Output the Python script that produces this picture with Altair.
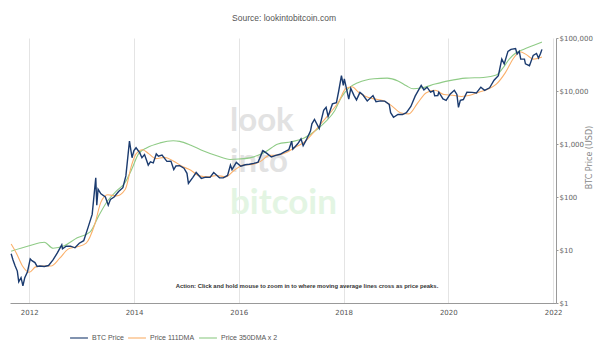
import altair as alt
import pandas as pd

# ---------------- data ----------------
price_dates = [
    "2011-08-28", "2011-09-10", "2011-09-25", "2011-10-10", "2011-10-20", "2011-11-05", "2011-11-18",
    "2011-12-01", "2011-12-20", "2012-01-08", "2012-01-20", "2012-02-10", "2012-02-25", "2012-03-15",
    "2012-04-15", "2012-05-15", "2012-06-15", "2012-07-15", "2012-08-15", "2012-08-20", "2012-09-15",
    "2012-10-15", "2012-11-15", "2012-12-15", "2013-01-15", "2013-02-15", "2013-03-15", "2013-04-09",
    "2013-04-16", "2013-04-25", "2013-05-15", "2013-06-15", "2013-07-05", "2013-07-20", "2013-08-15",
    "2013-09-15", "2013-10-15", "2013-11-05", "2013-11-30", "2013-12-18", "2013-12-31", "2014-01-15",
    "2014-02-10", "2014-02-25", "2014-03-15", "2014-04-10", "2014-04-25", "2014-05-15", "2014-06-05",
    "2014-06-20", "2014-07-15", "2014-08-18", "2014-09-15", "2014-10-05", "2014-10-20", "2014-11-15",
    "2014-12-15", "2015-01-05", "2015-01-15", "2015-02-15", "2015-03-10", "2015-04-15", "2015-05-15",
    "2015-06-15", "2015-07-10", "2015-08-20", "2015-09-15", "2015-10-15", "2015-11-04", "2015-11-15",
    "2015-12-15", "2016-01-15", "2016-02-15", "2016-03-15", "2016-04-15", "2016-05-15", "2016-06-17",
    "2016-07-15", "2016-08-15", "2016-09-15", "2016-10-15", "2016-11-15", "2016-12-15", "2017-01-04",
    "2017-01-12", "2017-02-15", "2017-03-10", "2017-03-25", "2017-04-15", "2017-05-15", "2017-05-25",
    "2017-06-12", "2017-07-15", "2017-08-15", "2017-09-01", "2017-09-15", "2017-10-15", "2017-11-12",
    "2017-11-28", "2017-12-17", "2017-12-30", "2018-01-06", "2018-01-20", "2018-02-06", "2018-02-20",
    "2018-03-15", "2018-04-01", "2018-04-25", "2018-05-15", "2018-06-15", "2018-07-25", "2018-08-15",
    "2018-09-15", "2018-10-15", "2018-11-15", "2018-11-25", "2018-12-15", "2019-01-15", "2019-02-15",
    "2019-03-15", "2019-04-15", "2019-05-15", "2019-06-26", "2019-07-15", "2019-08-06", "2019-08-30",
    "2019-09-20", "2019-09-28", "2019-10-20", "2019-10-27", "2019-11-25", "2019-12-17", "2020-01-15",
    "2020-02-12", "2020-03-01", "2020-03-12", "2020-03-25", "2020-04-15", "2020-05-10", "2020-06-15",
    "2020-07-15", "2020-08-15", "2020-09-10", "2020-10-15", "2020-11-15", "2020-12-15", "2021-01-08",
    "2021-01-25", "2021-02-20", "2021-03-13", "2021-04-14", "2021-04-25", "2021-05-10", "2021-05-20",
    "2021-06-15", "2021-06-22", "2021-07-20", "2021-08-15", "2021-09-07", "2021-09-21", "2021-10-05",
    "2021-10-15",
]
price_values = [
    8.5, 6.5, 5.0, 4.0, 2.5, 3.0, 2.1,
    3.0, 3.9, 6.8, 6.3, 5.8, 4.9, 5.0,
    4.9, 5.1, 6.5, 8.8, 12.5, 10.5, 11.8,
    11.8, 11.0, 13.4, 15, 27, 47, 230,
    70, 140, 115, 100, 70, 90, 100,
    127, 150, 250, 1130, 550, 750, 850,
    680, 550, 630, 400, 460, 440, 650,
    590, 620, 470, 475, 330, 385, 390,
    350, 280, 180, 235, 290, 225, 237,
    235, 290, 230, 230, 255, 400, 330,
    450, 380, 405, 415, 430, 455, 750,
    665, 570, 610, 640, 710, 780, 1130,
    800, 1010, 1250, 930, 1180, 1750, 2400,
    2900, 1950, 4300, 4900, 3300, 5700, 6000,
    10000, 19500, 12800, 17000, 11500, 7000, 11200,
    8200, 6800, 9400, 8500, 6500, 8200, 6300,
    6500, 6450, 5600, 3900, 3200, 3600, 3600,
    3900, 5100, 8000, 12800, 10500, 11800, 9500,
    10100, 8100, 8200, 9500, 7100, 6650, 8800,
    10300, 8600, 4900, 6700, 6900, 9500, 9400,
    9200, 11800, 10300, 11500, 16000, 19500, 40000,
    32500, 56000, 61000, 63500, 50000, 56000, 40000,
    40000, 32500, 30000, 47000, 51000, 42000, 51000,
    61000,
]

dma111_dates = [
    "2011-08-28", "2011-10-01", "2011-11-15", "2012-01-01", "2012-02-15", "2012-04-01", "2012-06-01",
    "2012-08-01", "2012-10-01", "2012-12-01", "2013-02-01", "2013-04-01", "2013-05-15", "2013-07-01",
    "2013-09-01", "2013-11-01", "2013-12-15", "2014-01-15", "2014-03-01", "2014-04-15", "2014-06-01",
    "2014-08-01", "2014-10-01", "2014-12-01", "2015-02-01", "2015-04-01", "2015-06-01", "2015-08-01",
    "2015-10-01", "2015-12-01", "2016-02-01", "2016-04-01", "2016-06-01", "2016-08-01", "2016-10-01",
    "2016-12-01", "2017-02-01", "2017-04-01", "2017-06-01", "2017-08-01", "2017-10-01", "2017-12-01",
    "2018-01-15", "2018-03-01", "2018-04-15", "2018-06-01", "2018-08-01", "2018-10-01", "2018-12-01",
    "2019-02-01", "2019-04-01", "2019-06-01", "2019-08-01", "2019-10-01", "2019-12-01", "2020-02-01",
    "2020-04-01", "2020-06-01", "2020-08-01", "2020-10-01", "2020-12-01", "2021-02-01", "2021-04-01",
    "2021-05-15", "2021-07-01", "2021-08-15", "2021-10-15",
]
dma111_values = [
    13, 9, 5, 3.8, 4.8, 5.0, 5.0,
    7.0, 10.5, 11.5, 13.5, 30, 80, 110,
    105, 140, 400, 650, 780, 650, 530,
    560, 480, 380, 320, 250, 240, 255,
    240, 320, 400, 410, 470, 610, 620,
    700, 880, 1080, 1600, 2500, 3900, 6500,
    11000, 12000, 9500, 8000, 7100, 6600, 5300,
    3900, 3700, 5900, 9300, 10300, 8600, 8300,
    7900, 8300, 9500, 10800, 13500, 22000, 42000,
    55000, 48000, 40000, 44000,
]

dma350x2_dates = [
    "2011-08-28", "2012-01-01", "2012-04-15", "2012-06-15", "2012-09-01", "2012-12-01", "2013-03-01",
    "2013-05-01", "2013-07-01", "2013-09-01", "2013-11-01", "2013-12-15", "2014-02-01", "2014-04-01",
    "2014-07-01", "2014-10-01", "2014-11-15", "2015-02-01", "2015-05-01", "2015-08-01", "2015-11-01",
    "2016-01-01", "2016-04-01", "2016-07-01", "2016-10-01", "2017-01-01", "2017-04-01", "2017-07-01",
    "2017-09-01", "2017-11-01", "2017-12-15", "2018-02-01", "2018-04-15", "2018-08-01", "2018-11-01",
    "2019-01-15", "2019-03-15", "2019-05-01", "2019-07-01", "2019-10-01", "2020-01-01", "2020-05-01",
    "2020-09-01", "2020-12-01", "2021-01-15", "2021-03-01", "2021-04-15", "2021-06-15", "2021-08-15",
    "2021-10-15",
]
dma350x2_values = [
    9.5, 12, 14, 10.8, 12, 17, 22,
    45, 85, 130, 190, 330, 650, 850,
    1050, 1150, 1120, 950, 740, 600, 510,
    520, 560, 700, 1000, 1100, 1300, 1900,
    2700, 4300, 7500, 11000, 14500, 17000, 17500,
    15500, 12500, 11000, 11500, 13500, 15500, 17500,
    18000, 20000, 27000, 40000, 52000, 62000, 72000,
    84000,
]

series_names = ["BTC Price", "Price 111DMA", "Price 350DMA x 2"]
series_colors = ["#1b3b6f", "#fbb06a", "#8fcb86"]
y_ticks = [1, 10, 100, 1000, 10000, 100000]
x_tick_years = ["2012", "2014", "2016", "2018", "2020", "2022"]

# ---------------- frames ----------------
df_price = pd.DataFrame({"date": pd.to_datetime(price_dates), "value": price_values, "series": series_names[0]})
df_111 = pd.DataFrame({"date": pd.to_datetime(dma111_dates), "value": dma111_values, "series": series_names[1]})
df_350 = pd.DataFrame({"date": pd.to_datetime(dma350x2_dates), "value": dma350x2_values, "series": series_names[2]})

W, H = 546, 265
FONT = "DejaVu Sans"

x_enc = alt.X(
    "date:T",
    scale=alt.Scale(domain=["2011-08-20", "2022-01-21"]),
    axis=alt.Axis(
        title=None,
        values=[f"{y}-01-01" for y in x_tick_years],
        format="%Y",
        grid=True,
        gridColor="#e4e4e4",
        gridWidth=1,
        tickSize=0,
        labelPadding=5,
        labelFont=FONT,
        labelFontSize=7,
        labelColor="#555555",
        domainColor="#999999",
    ),
)
y_enc = alt.Y(
    "value:Q",
    scale=alt.Scale(type="log", domain=[1, 100000]),
    axis=alt.Axis(
        orient="right",
        values=y_ticks,
        labelExpr="'$' + format(datum.value, ',')",
        grid=False,
        tickSize=2,
        tickColor="#999999",
        labelPadding=1,
        labelFont=FONT,
        labelFontSize=7,
        labelColor="#666666",
        domainColor="#999999",
        title="BTC Price (USD)",
        titleAngle=270,
        titleFont=FONT,
        titleFontSize=8,
        titleFontWeight="normal",
        titleColor="#888888",
        titleX=33,
        titleY=119,
        titleAlign="center",
        titleBaseline="middle",
    ),
)
color_enc = alt.Color(
    "series:N",
    scale=alt.Scale(domain=series_names, range=series_colors),
    legend=alt.Legend(
        title=None,
        orient="none",
        legendX=59,
        legendY=290,
        direction="horizontal",
        symbolType="stroke",
        symbolSize=320,
        symbolStrokeWidth=2,
        symbolOpacity=0.55,
        labelFont="Liberation Sans",
        labelFontSize=7,
        labelColor="#555555",
        labelOffset=3,
        columnPadding=0,
    ),
)

# watermark words
wm_look = alt.Chart(pd.DataFrame({"t": ["look"]})).mark_text(
    font="Lato", fontWeight="bold", fontSize=33, color="#e2e2e2", align="left", baseline="alphabetic"
).encode(text="t:N", x=alt.value(220), y=alt.value(93))
wm_into = alt.Chart(pd.DataFrame({"t": ["into"]})).mark_text(
    font="Lato", fontWeight="bold", fontSize=33, color="#e2e2e2", align="left", baseline="alphabetic"
).encode(text="t:N", x=alt.value(220), y=alt.value(134))
wm_btc = alt.Chart(pd.DataFrame({"t": ["bitcoin"]})).mark_text(
    font="Lato", fontWeight="bold", fontSize=35, color="#e3f5e3", align="left", baseline="alphabetic"
).encode(text="t:N", x=alt.value(220), y=alt.value(176))

line_350 = alt.Chart(df_350).mark_line(strokeWidth=1.1, interpolate="monotone").encode(
    x=x_enc, y=y_enc, color=color_enc
)
line_111 = alt.Chart(df_111).mark_line(strokeWidth=1.1, interpolate="monotone").encode(
    x=x_enc, y=y_enc, color=color_enc
)
line_price = alt.Chart(df_price).mark_line(strokeWidth=1.4).encode(
    x=x_enc, y=y_enc, color=color_enc
)

action = alt.Chart(pd.DataFrame({"t": ["Action: Click and hold mouse to zoom in to where moving average lines cross as price peaks."]})).mark_text(
    font="Liberation Sans", fontWeight="bold", fontSize=5.9, color="#333333", align="center", baseline="middle"
).encode(text="t:N", x=alt.value(297), y=alt.value(248))

title = alt.Chart(pd.DataFrame({"t": ["Source: lookintobitcoin.com"]})).mark_text(
    font="Liberation Sans", fontSize=8.5, color="#555555", align="center", baseline="middle"
).encode(text="t:N", x=alt.value(274), y=alt.value(-20))

chart = alt.layer(wm_look, wm_into, wm_btc, line_350, line_111, line_price, action, title).properties(
    width=W,
    height=H,
    autosize=alt.AutoSizeParams(type="none"),
    padding={"left": 10, "top": 38, "right": 45, "bottom": 43},
    background="white",
).configure_view(stroke=None)

chart.save("out.html", embed_options={"renderer": "svg", "actions": False})
